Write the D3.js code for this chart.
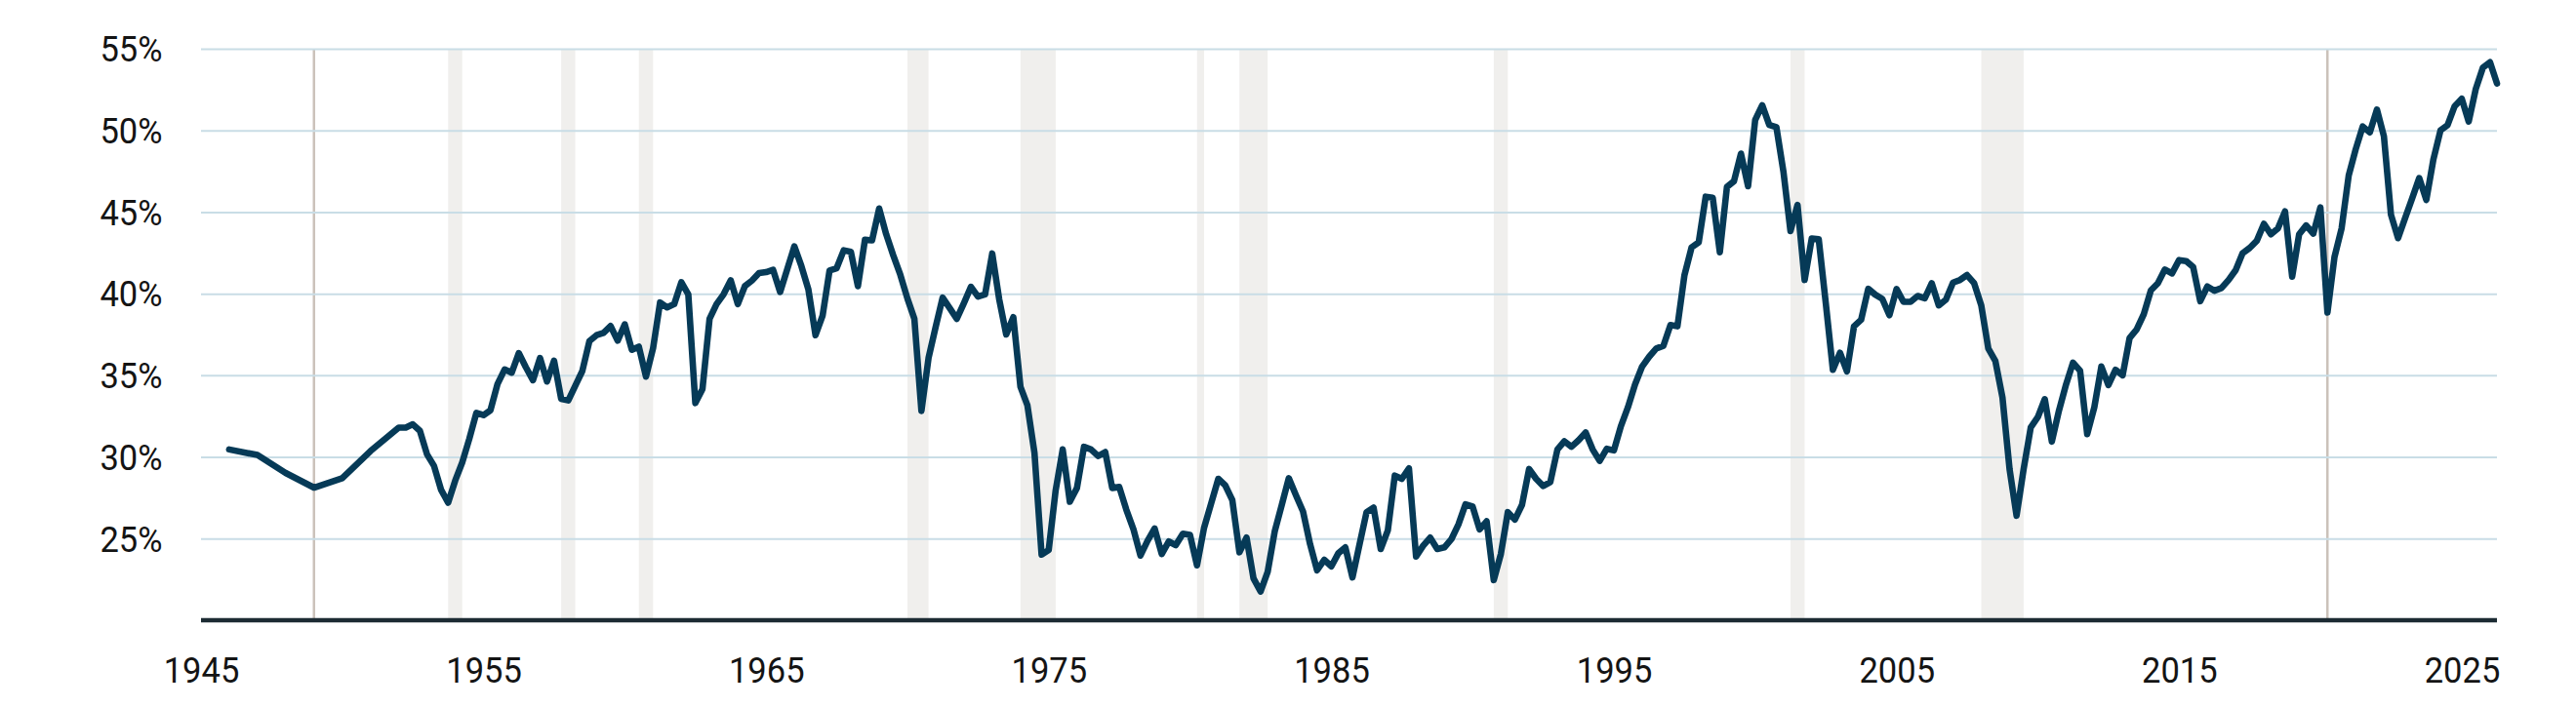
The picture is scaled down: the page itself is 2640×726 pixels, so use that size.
<!DOCTYPE html>
<html>
<head>
<meta charset="utf-8">
<script src="https://cdn.jsdelivr.net/npm/d3@7"></script>
<style>
  html, body { margin: 0; padding: 0; background: #fff; }
  svg { display: block; }
</style>
</head>
<body>
<div id="chart"></div>
<script>
// year-end readings before quarterly data starts
var annualYears = [1945, 1946, 1947, 1948, 1949, 1950, 1951];
var annualValues = [30.46, 30.12, 29.02, 28.12, 28.7, 30.36, 31.8];

// quarterly readings, 1952 Q1 onwards (one row per year)
var firstQuarterYear = 1952;
var quarterlyValues = [
  31.8, 32.0, 31.6, 30.16,
  29.46, 28.0, 27.2, 28.56,
  29.66, 31.1, 32.7, 32.56,
  32.86, 34.46, 35.36, 35.16,
  36.36, 35.5, 34.7, 36.06,
  34.62, 35.9, 33.56, 33.46,
  34.36, 35.26, 37.1, 37.46,
  37.6, 38.02, 37.12, 38.12,
  36.56, 36.76, 34.92, 36.66,
  39.46, 39.16, 39.36, 40.7,
  39.96, 33.3, 34.16, 38.46,
  39.36, 39.96, 40.82, 39.36,
  40.46, 40.8, 41.26, 41.32,
  41.46, 40.1, 41.5, 42.9,
  41.7, 40.26, 37.46, 38.66,
  41.42, 41.56, 42.66, 42.56,
  40.46, 43.3, 43.26, 45.22,
  43.65, 42.36, 41.16, 39.7,
  38.46, 32.82, 36.06, 37.96,
  39.76, 39.12, 38.46, 39.42,
  40.42, 39.82, 39.96, 42.46,
  39.66, 37.5, 38.56, 34.3,
  33.16, 30.26, 24.02, 24.3,
  27.96, 30.46, 27.26, 28.1,
  30.62, 30.46, 30.06, 30.3,
  28.1, 28.16, 26.76, 25.56,
  23.96, 24.86, 25.62, 24.06,
  24.82, 24.6, 25.3, 25.22,
  23.36, 25.66, 27.16, 28.66,
  28.26, 27.36, 24.16, 25.06,
  22.56, 21.76, 22.96, 25.46,
  27.06, 28.7, 27.66, 26.66,
  24.66, 23.06, 23.7, 23.3,
  24.1, 24.46, 22.62, 24.66,
  26.62, 26.9, 24.36, 25.5,
  28.86, 28.66, 29.3, 23.9,
  24.56, 25.06, 24.36, 24.46,
  24.96, 25.86, 27.1, 26.96,
  25.56, 26.06, 22.46, 24.06,
  26.62, 26.16, 27.06, 29.26,
  28.66, 28.22, 28.46, 30.46,
  30.96, 30.62, 31.02, 31.5,
  30.46, 29.76, 30.5, 30.4,
  31.88, 33.04, 34.44, 35.54,
  36.14, 36.64, 36.8, 38.08,
  38.0, 41.14, 42.84, 43.14,
  45.94, 45.88, 42.54, 46.54,
  46.88, 48.58, 46.58, 50.64,
  51.54, 50.34, 50.2, 47.44,
  43.84, 45.44, 40.84, 43.38,
  43.34, 39.44, 35.34, 36.38,
  35.24, 38.0, 38.4, 40.3,
  39.94, 39.68, 38.68, 40.28,
  39.5, 39.5, 39.86, 39.72,
  40.64, 39.28, 39.64, 40.68,
  40.84, 41.14, 40.64, 39.28,
  36.64, 35.88, 33.64, 29.24,
  26.4, 29.24, 31.8, 32.44,
  33.54, 30.94, 32.84, 34.44,
  35.78, 35.28, 31.4, 33.04,
  35.54, 34.4, 35.34, 35.0,
  37.28, 37.8, 38.74, 40.2,
  40.64, 41.48, 41.24, 42.06,
  42.0, 41.64, 39.54, 40.44,
  40.18, 40.34, 40.84, 41.44,
  42.48, 42.8, 43.24, 44.28,
  43.64, 44.0, 45.04, 41.04,
  43.64, 44.18, 43.68, 45.28,
  38.84, 42.24, 44.0, 47.24,
  48.84, 50.24, 49.88, 51.28,
  49.64, 44.84, 43.4, 44.64,
  45.84, 47.08, 45.74, 48.24,
  50.0, 50.32, 51.48, 51.94,
  50.54, 52.54, 53.84, 54.18,
  52.88
];

// recessions, from peak quarter end to trough quarter end
var recessionStarts = ["1948-12-31", "1953-09-30", "1957-09-30", "1960-06-30", "1969-12-31", "1973-12-31",
  "1980-03-31", "1981-09-30", "1990-09-30", "2001-03-31", "2007-12-31", "2020-03-31"];
var recessionEnds = ["1948-12-31", "1954-03-31", "1958-03-31", "1960-12-31", "1970-09-30", "1975-03-31",
  "1980-06-30", "1982-09-30", "1991-03-31", "2001-09-30", "2009-06-30", "2020-03-31"];

var yTicks = [25, 30, 35, 40, 45, 50, 55];
var xTickYears = [1945, 1955, 1965, 1975, 1985, 1995, 2005, 2015, 2025];

//------------------------------ build ------------------------------
var width = 2640, height = 726;
var margin = {top: 50, right: 81, bottom: 90, left: 206};
var parse = d3.timeParse("%Y-%m-%d");
var squeeze = 0.92;   // labels in the original are a touch narrower than Roboto

var series = [];
annualYears.forEach(function(y, i) {
    series.push({date: new Date(y, 11, 31), value: annualValues[i]});
});
quarterlyValues.forEach(function(v, i) {
    var yr = firstQuarterYear + Math.floor(i / 4);
    var q = i % 4;
    series.push({date: new Date(yr, (q + 1) * 3, 0), value: v});
});

var recessions = recessionStarts.map(function(s, i) {
    return {start: parse(s), end: parse(recessionEnds[i])};
});

var svg = d3.select("#chart").append("svg")
    .attr("width", width)
    .attr("height", height);

var x = d3.scaleTime()
    .domain([new Date(1945, 0, 1), series[series.length - 1].date])
    .range([margin.left, width - margin.right]);

var y = d3.scaleLinear()
    .domain([20, 55])
    .range([height - margin.bottom, margin.top]);

var plotTop = y(55), plotBottom = y(20);

// recession bands (zero-length ones become thin rules)
var gRec = svg.append("g");
gRec.selectAll("rect")
    .data(recessions.filter(function(d) { return +d.end > +d.start; }))
    .enter().append("rect")
    .attr("x", function(d) { return x(d.start); })
    .attr("width", function(d) { return x(d.end) - x(d.start); })
    .attr("y", plotTop)
    .attr("height", plotBottom - plotTop)
    .attr("fill", "#f0efed");
gRec.selectAll("line")
    .data(recessions.filter(function(d) { return +d.end === +d.start; }))
    .enter().append("line")
    .attr("x1", function(d) { return x(d.start); })
    .attr("x2", function(d) { return x(d.start); })
    .attr("y1", plotTop)
    .attr("y2", plotBottom)
    .attr("stroke", "#cbc2ba")
    .attr("stroke-width", 2.5);

// y axis with gridlines
var yAxis = d3.axisLeft(y)
    .tickValues(yTicks)
    .tickSize(-(width - margin.left - margin.right))
    .tickPadding(40)
    .tickFormat(function(d) { return d + "%"; });

var gy = svg.append("g")
    .attr("transform", "translate(" + margin.left + ",0)")
    .call(yAxis);
gy.select(".domain").remove();
gy.selectAll(".tick line")
    .attr("stroke", "#c9dde6")
    .attr("stroke-width", 2);
gy.selectAll(".tick text")
    .attr("fill", "#141414")
    .attr("font-family", "Roboto, 'Noto Sans', sans-serif")
    .attr("font-size", "37.5px")
    .attr("x", -39.5 / squeeze)
    .attr("dy", "0.34em")
    .attr("transform", "scale(" + squeeze + ",1)");

// x axis
var xAxis = d3.axisBottom(x)
    .tickValues(xTickYears.map(function(yr) { return new Date(yr, 0, 1); }))
    .tickSize(0)
    .tickFormat(d3.timeFormat("%Y"));

var gx = svg.append("g")
    .attr("transform", "translate(0," + plotBottom + ")")
    .call(xAxis);
gx.select(".domain").remove();
gx.selectAll(".tick text")
    .attr("fill", "#141414")
    .attr("font-family", "Roboto, 'Noto Sans', sans-serif")
    .attr("font-size", "37.5px")
    .attr("y", 64.5)
    .attr("dy", 0)
    .attr("transform", "scale(" + squeeze + ",1)");

// the series
var line = d3.line()
    .x(function(d) { return x(d.date); })
    .y(function(d) { return y(d.value); });

svg.append("path")
    .datum(series)
    .attr("d", line)
    .attr("fill", "none")
    .attr("stroke", "#063a57")
    .attr("stroke-width", 6.6)
    .attr("stroke-linejoin", "round")
    .attr("stroke-linecap", "round");

// baseline
svg.append("line")
    .attr("x1", margin.left)
    .attr("x2", width - margin.right)
    .attr("y1", plotBottom)
    .attr("y2", plotBottom)
    .attr("stroke", "#1c2b33")
    .attr("stroke-width", 4.5);
</script>
</body>
</html>
